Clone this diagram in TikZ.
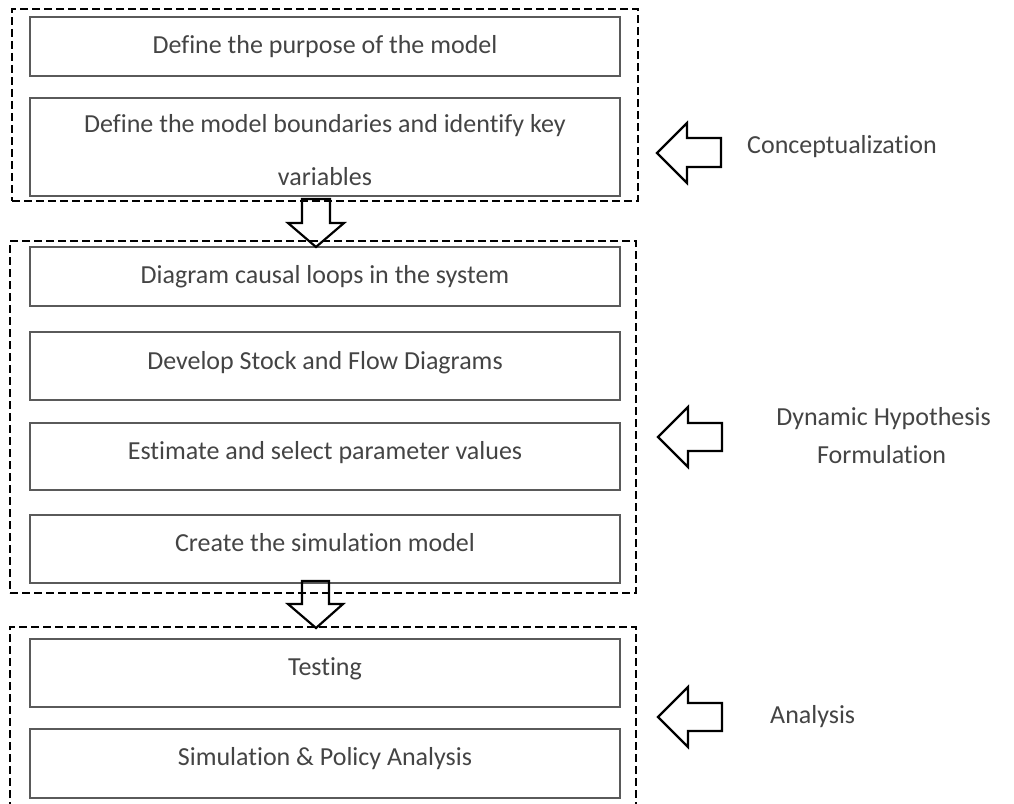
\documentclass[tikz,border=0pt]{standalone}
\usepackage{fontspec}
\setmainfont{Carlito}[Ligatures=NoCommon]
\begin{document}
\definecolor{boxline}{RGB}{90,90,90}
\definecolor{ink}{RGB}{68,68,68}
\begin{tikzpicture}[x=1pt,y=-1pt,
  stagebox/.style={draw=boxline, line width=1.1pt, inner sep=0pt},
  groupbox/.style={draw=black, line width=1.2pt, dash pattern=on 8pt off 4pt, inner sep=0pt},
  blockarrow/.style={draw=black, line width=2.2pt, line join=miter},
  txt/.style={text=ink, font=\fontsize{26}{53}\selectfont, inner sep=0pt, anchor=base},
  sidetxt/.style={txt}]
\useasboundingbox (0,0) rectangle (1014,803);

% phase groups
\node[groupbox, minimum width=626, minimum height=192] (g1) at (325,105) {};
\node[groupbox, minimum width=626, minimum height=352] (g2) at (323,417) {};
\coordinate (g3bl) at (10,810);
\coordinate (g3tl) at (10,627);
\coordinate (g3tr) at (636,627);
\coordinate (g3br) at (636,810);
\draw[groupbox] (g3bl) -- (g3tl) -- (g3tr) -- (g3br);

% step boxes
\node[stagebox, minimum width=590, minimum height=59] (b1) at (325,46.5) {};
\node[stagebox, minimum width=590, minimum height=98] (b2) at (325,147) {};
\node[stagebox, minimum width=590, minimum height=59] (b3) at (325,276.5) {};
\node[stagebox, minimum width=590, minimum height=68] (b4) at (325,366) {};
\node[stagebox, minimum width=590, minimum height=67] (b5) at (325,456.5) {};
\node[stagebox, minimum width=590, minimum height=68] (b6) at (325,549) {};
\node[stagebox, minimum width=590, minimum height=68] (b7) at (325,673) {};
\node[stagebox, minimum width=590, minimum height=69] (b8) at (325,763.5) {};

% step labels
\node[txt] (t1) at (325,53) {Define the purpose of the model};
\node[txt, align=center] (t2) at (325,185) {Define the model boundaries and identify key\\variables};
\node[txt] (t3) at (325,283) {Diagram causal loops in the system};
\node[txt] (t4) at (325,369) {Develop Stock and Flow Diagrams};
\node[txt] (t5) at (325,459) {Estimate and select parameter values};
\node[txt] (t6) at (325,551) {Create the simulation model};
\node[txt] (t7) at (325,675) {Testing};
\node[txt] (t8) at (325,765) {Simulation \& Policy Analysis};

% phase labels
\node[sidetxt, anchor=base west] (p1) at (747,153) {Conceptualization};
\node[sidetxt] (p2a) at (883.5,425) {Dynamic Hypothesis};
\node[sidetxt] (p2b) at (881.5,463) {Formulation};
\node[sidetxt, anchor=base west] (p3) at (770,723) {Analysis};

% downward block arrows between phases
\draw[blockarrow] (302,199) -- (330,199) -- (330,223) -- (344,223) -- (316,247)
  -- (288,223) -- (302,223) -- cycle;
\draw[blockarrow] (302,581) -- (329,581) -- (329,604) -- (343,604) -- (316,628)
  -- (288,604) -- (302,604) -- cycle;

% left-pointing block arrows next to the phase labels
\draw[blockarrow] (657,153) -- (687,123) -- (687,138) -- (721,138) -- (721,167)
  -- (687,167) -- (687,183) -- cycle;
\draw[blockarrow] (658,437) -- (688,407) -- (688,423) -- (722,423) -- (722,451)
  -- (688,451) -- (688,467) -- cycle;
\draw[blockarrow] (658,717) -- (688,687) -- (688,703) -- (722,703) -- (722,731)
  -- (688,731) -- (688,747) -- cycle;
\end{tikzpicture}
\end{document}
